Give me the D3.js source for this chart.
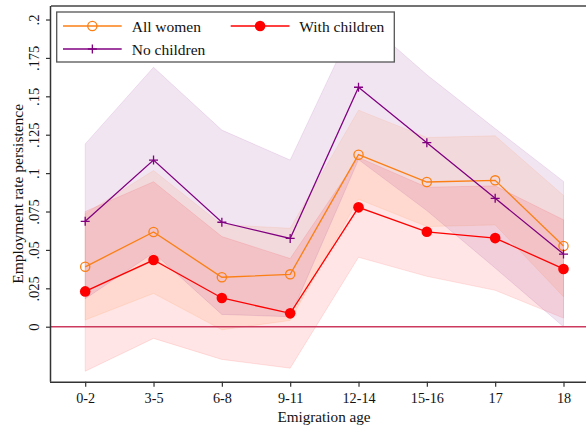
<!DOCTYPE html>
<html>
<head>
<meta charset="utf-8">
<script src="https://cdn.jsdelivr.net/npm/d3@7/dist/d3.min.js"></script>
<style>
  html, body { margin: 0; padding: 0; background: #fff; }
  svg { display: block; }
  text { font-family: "Liberation Serif", "Times New Roman", serif; fill: #111; }
</style>
</head>
<body>
<svg id="chart" width="586" height="428"></svg>
<script>
// Emigration age groups
const categories = ["0-2", "3-5", "6-8", "9-11", "12-14", "15-16", "17", "18"];

// Point estimates
const allWomen     = [0.039, 0.0617, 0.0322, 0.0341, 0.112, 0.0942, 0.0953, 0.0525];
const withChildren = [0.023, 0.0434, 0.0187, 0.0087, 0.0777, 0.0618, 0.0577, 0.0376];
const noChildren   = [0.0686, 0.1085, 0.068, 0.0575, 0.1559, 0.1198, 0.0836, 0.0473];

// Confidence interval bounds
const allWomenLo     = [0.0044, 0.0217, -0.002, 0.0041, 0.083, 0.0652, 0.0663, 0.0195];
const allWomenHi     = [0.0736, 0.1017, 0.0664, 0.0641, 0.141, 0.1232, 0.1243, 0.0855];
const withChildrenLo = [-0.029, -0.0076, -0.0213, -0.027, 0.0452, 0.0328, 0.0237, 0.0056];
const withChildrenHi = [0.075, 0.0944, 0.0587, 0.0444, 0.1102, 0.0908, 0.0917, 0.0696];
const noChildrenLo   = [0.0182, 0.0481, 0.008, 0.0065, 0.1088, 0.0756, 0.0382, 0.0];
const noChildrenHi   = [0.119, 0.1689, 0.128, 0.1085, 0.203, 0.164, 0.129, 0.0946];

// Y-axis ticks
const yTicks = [0, 0.025, 0.05, 0.075, 0.1, 0.125, 0.15, 0.175, 0.2];
const yTickLabels = ["0", ".025", ".05", ".075", ".1", ".125", ".15", ".175", ".2"];

const series = [
  { name: "All women",     mean: allWomen,     lo: allWomenLo,     hi: allWomenHi,     color: "#fb7f14", marker: "hollow" },
  { name: "With children", mean: withChildren, lo: withChildrenLo, hi: withChildrenHi, color: "#ff0000", marker: "dot" },
  { name: "No children",   mean: noChildren,   lo: noChildrenLo,   hi: noChildrenHi,   color: "#800080", marker: "plus" }
];

const svg = d3.select("#chart");
const plotLeft = 51, plotRight = 586, plotTop = 6, plotBottom = 381.7;

const x = d3.scalePoint().domain(categories).range([85.2, 563.5]);
const y = d3.scaleLinear().domain([-0.0358, 0.2088]).range([plotBottom, plotTop]);

// Confidence bands
const area = d3.area()
  .x((d, i) => x(categories[i]))
  .y0(d => y(d[0]))
  .y1(d => y(d[1]));

series.forEach(s => {
  const pts = s.lo.map((v, i) => [v, s.hi[i]]);
  svg.append("path")
    .datum(pts)
    .attr("d", area)
    .attr("fill", s.color)
    .attr("fill-opacity", 0.1)
    .attr("stroke", s.color)
    .attr("stroke-opacity", 0.1)
    .attr("stroke-width", 1);
});

// Zero reference line
svg.append("line")
  .attr("x1", plotLeft).attr("x2", plotRight)
  .attr("y1", y(0)).attr("y2", y(0))
  .attr("stroke", "#cc3a5e").attr("stroke-width", 1.5);

// Frame top edge
svg.append("line")
  .attr("x1", plotLeft).attr("x2", plotRight)
  .attr("y1", plotTop).attr("y2", plotTop)
  .attr("stroke", "#444").attr("stroke-width", 1.3);

// Axes
const yAxis = d3.axisLeft(y).tickValues(yTicks)
  .tickFormat((d, i) => yTickLabels[i]).tickSize(5).tickPadding(4);
const gy = svg.append("g").attr("transform", `translate(${plotLeft},0)`).call(yAxis);
gy.select(".domain").attr("d", `M-0.5,${plotTop}V${plotBottom}`).attr("stroke", "#333").attr("stroke-width", 1.5);
gy.selectAll(".tick line").attr("stroke", "#333").attr("stroke-width", 1.2);
gy.selectAll(".tick text")
  .attr("font-family", "Liberation Serif, serif")
  .attr("font-size", 14.5)
  .attr("fill", "#111")
  .attr("x", null).attr("dy", null)
  .attr("text-anchor", "middle")
  .attr("dominant-baseline", "central")
  .attr("transform", "translate(-17,0) rotate(-90)");

const xAxis = d3.axisBottom(x).tickSize(5).tickPadding(6);
const gx = svg.append("g").attr("transform", `translate(0,${plotBottom})`).call(xAxis);
gx.select(".domain").attr("d", `M${plotLeft - 1},0.5H${plotRight}`).attr("stroke", "#333").attr("stroke-width", 1.5);
gx.selectAll(".tick line").attr("stroke", "#333").attr("stroke-width", 1.2);
gx.selectAll(".tick text")
  .attr("font-family", "Liberation Serif, serif")
  .attr("font-size", 14.2)
  .attr("fill", "#111");

// Axis titles
svg.append("text")
  .attr("x", 324).attr("y", 422)
  .attr("text-anchor", "middle")
  .attr("font-size", 15.2)
  .text("Emigration age");

svg.append("text")
  .attr("transform", `translate(17,${(plotTop + plotBottom) / 2}) rotate(-90)`)
  .attr("text-anchor", "middle")
  .attr("dominant-baseline", "central")
  .attr("font-size", 15.5)
  .text("Employment rate persistence");

// Marker drawing
function drawMarker(g, s, cx, cy) {
  if (s.marker === "hollow") {
    g.append("circle").attr("cx", cx).attr("cy", cy).attr("r", 4.6)
      .attr("fill", "none").attr("stroke", s.color).attr("stroke-width", 1.3);
  } else if (s.marker === "dot") {
    g.append("circle").attr("cx", cx).attr("cy", cy).attr("r", 5.3)
      .attr("fill", s.color);
  } else {
    g.append("path")
      .attr("d", `M${cx - 4.5},${cy}H${cx + 4.5}M${cx},${cy - 4.5}V${cy + 4.5}`)
      .attr("stroke", s.color).attr("stroke-width", 1.3);
  }
}

// Lines and markers
const line = d3.line().x((d, i) => x(categories[i])).y(d => y(d));
series.forEach(s => {
  const g = svg.append("g");
  g.append("path").datum(s.mean).attr("d", line)
    .attr("fill", "none").attr("stroke", s.color).attr("stroke-width", 1.3);
  s.mean.forEach((v, i) => drawMarker(g, s, x(categories[i]), y(v)));
});

// Legend
const legend = svg.append("g");
legend.append("rect")
  .attr("x", 56.7).attr("y", 12).attr("width", 337.6).attr("height", 50)
  .attr("fill", "#fff").attr("stroke", "#555").attr("stroke-width", 1.3);

const legendPos = [
  { x0: 63, x1: 121.7, tx: 131.7, cy: 26 },
  { x0: 230.7, x1: 289.5, tx: 299.3, cy: 26 },
  { x0: 63, x1: 121.7, tx: 131.7, cy: 49 }
];
series.forEach((s, i) => {
  const p = legendPos[i];
  legend.append("line").attr("x1", p.x0).attr("x2", p.x1).attr("y1", p.cy).attr("y2", p.cy)
    .attr("stroke", s.color).attr("stroke-width", 1.3);
  drawMarker(legend, s, (p.x0 + p.x1) / 2, p.cy);
  legend.append("text").attr("x", p.tx).attr("y", p.cy)
    .attr("dominant-baseline", "central")
    .attr("font-size", 15.5)
    .text(s.name);
});
</script>
</body>
</html>
